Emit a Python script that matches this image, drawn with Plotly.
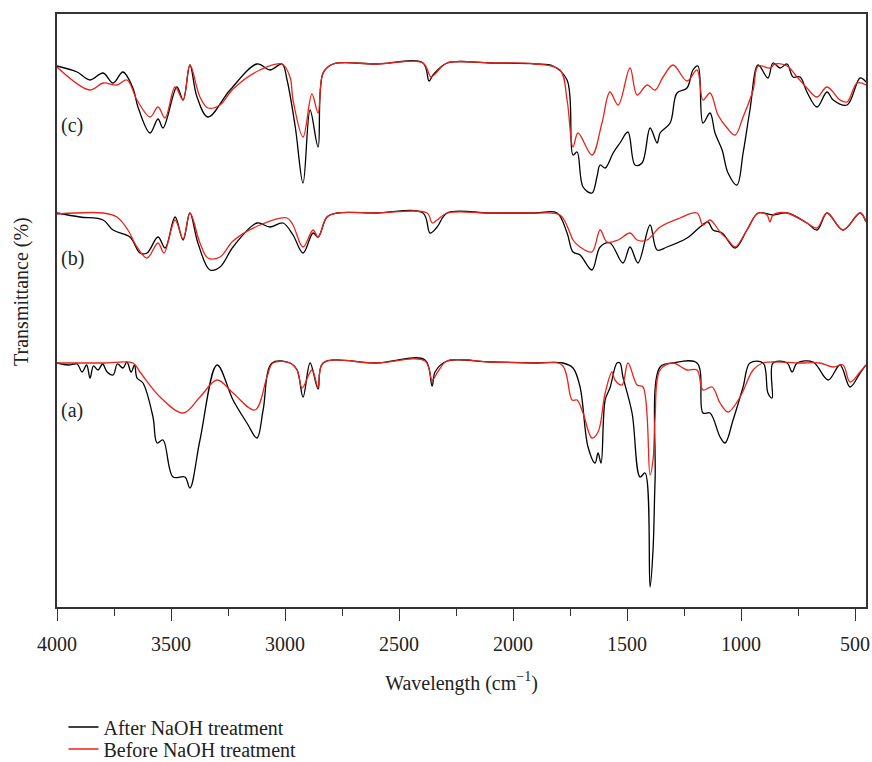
import plotly.graph_objects as go

# ---------------- data (y in arbitrary transmittance units) -------------
c_after_x = [4000, 3912, 3855, 3798, 3754, 3711, 3667, 3645, 3592, 3557, 3535, 3474, 3447, 3417, 3386,
             3338, 3241, 3123, 3066, 3013, 2991, 2955, 2921, 2890, 2855, 2833, 2789, 2600, 2395, 2368,
             2351, 2289, 2100, 1900, 1825, 1763, 1737, 1719, 1693, 1654, 1632, 1618, 1596, 1561, 1531,
             1496, 1465, 1434, 1399, 1368, 1355, 1311, 1281, 1237, 1211, 1189, 1167, 1136, 1114, 1083,
             1057, 1018, 991, 961, 925, 882, 860, 829, 798, 772, 741, 711, 667, 623, 596, 535, 478, 452]
c_after_y = [541, 535, 527, 534, 524, 535, 519, 500, 474, 488, 479, 520, 507, 542, 510,
             490, 517, 543, 537, 543, 527, 480, 424, 497, 460, 534, 543, 543, 544, 526,
             532, 544, 544, 543, 541, 527, 452, 455, 420, 414, 430, 442, 439, 454, 464,
             475, 442, 444, 479, 464, 474, 484, 514, 519, 537, 541, 484, 494, 474, 457,
             434, 422, 454, 497, 542, 529, 544, 539, 543, 530, 530, 515, 500, 515, 507, 502, 529, 525]

c_before_x = [4000, 3855, 3798, 3737, 3693, 3649, 3592, 3557, 3526, 3482, 3447, 3417, 3373, 3338, 3285,
              3228, 3110, 3013, 2978, 2965, 2921, 2882, 2855, 2833, 2789, 2600, 2395, 2360, 2342, 2289,
              2100, 1900, 1794, 1763, 1737, 1715, 1654, 1610, 1575, 1539, 1487, 1456, 1412, 1377, 1342,
              1298, 1237, 1193, 1167, 1136, 1101, 1061, 1026, 991, 947, 925, 873, 851, 798, 754, 711,
              667, 623, 566, 535, 491, 452]
c_before_y = [540, 517, 524, 522, 527, 507, 490, 500, 489, 520, 507, 542, 510, 499, 502,
              518, 537, 543, 530, 507, 470, 513, 494, 534, 543, 543, 544, 530, 533, 544,
              544, 543, 537, 507, 460, 474, 452, 484, 515, 502, 539, 512, 522, 517, 530,
              542, 526, 537, 507, 514, 492, 479, 472, 490, 517, 541, 539, 543, 541, 530, 519,
              510, 520, 507, 505, 524, 522]

b_after_x = [4000, 3899, 3798, 3754, 3680, 3636, 3605, 3557, 3526, 3482, 3447, 3417, 3382, 3329, 3285,
             3228, 3123, 3066, 3009, 2965, 2921, 2877, 2855, 2816, 2772, 2600, 2395, 2364, 2333, 2289,
             2100, 1900, 1807, 1763, 1737, 1706, 1654, 1618, 1575, 1518, 1487, 1452, 1399, 1368, 1325,
             1237, 1180, 1145, 1123, 1083, 1026, 974, 925, 860, 798, 711, 667, 623, 553, 478, 452]
b_after_y = [394, 390, 387, 377, 370, 354, 354, 370, 359, 390, 367, 394, 364, 337, 340,
             360, 384, 380, 384, 372, 354, 374, 370, 390, 394, 394, 394, 374, 380, 394,
             394, 394, 394, 374, 355, 352, 337, 360, 364, 344, 360, 344, 382, 357, 360,
             369, 380, 385, 377, 374, 359, 377, 394, 392, 394, 384, 377, 394, 377, 394, 385]

b_before_x = [4000, 3798, 3737, 3689, 3649, 3605, 3557, 3531, 3482, 3447, 3417, 3373, 3338, 3285, 3228,
              3110, 2991, 2965, 2921, 2877, 2855, 2816, 2772, 2600, 2377, 2355, 2333, 2289, 2100, 1900,
              1794, 1750, 1737, 1706, 1654, 1618, 1588, 1539, 1487, 1456, 1412, 1355, 1268, 1193, 1167,
              1136, 1092, 1057, 1026, 974, 925, 886, 873, 860, 798, 711, 667, 623, 553, 478, 452]
b_before_y = [393, 394, 390, 377, 360, 349, 364, 354, 387, 368, 394, 364, 349, 350, 366,
              382, 389, 382, 360, 377, 370, 390, 394, 394, 394, 384, 387, 394, 394, 394,
              392, 374, 367, 360, 355, 377, 365, 367, 374, 367, 367, 380, 389, 394, 382,
              387, 375, 367, 360, 377, 394, 392, 385, 392, 394, 384, 379, 394, 377, 394, 385]

a_after_x = [4000, 3950, 3912, 3890, 3870, 3855, 3840, 3820, 3800, 3780, 3754, 3735, 3711, 3693, 3675,
             3660, 3649, 3623, 3579, 3561, 3535, 3491, 3439, 3417, 3373, 3298, 3228, 3167, 3123, 3096,
             3057, 2978, 2947, 2921, 2890, 2855, 2833, 2600, 2386, 2355, 2342, 2289, 2100, 1900, 1781,
             1737, 1706, 1671, 1640, 1627, 1614, 1596, 1575, 1544, 1531, 1518, 1478, 1443, 1421, 1399,
             1386, 1377, 1355, 1298, 1193, 1167, 1136, 1092, 1070, 1035, 991, 961, 903, 882, 864, 860,
             798, 776, 754, 684, 618, 566, 522, 478, 452]
a_after_y = [244, 242, 243, 235, 242, 229, 241, 237, 243, 235, 232, 243, 239, 245, 235,
             242, 229, 224, 190, 164, 167, 130, 130, 119, 167, 242, 207, 184, 169, 197,
             244, 244, 237, 210, 244, 218, 244, 244, 247, 221, 235, 246, 245, 244, 244,
             239, 220, 160, 144, 154, 144, 207, 219, 244, 244, 230, 194, 130, 134, 20,
             57, 127, 240, 244, 244, 194, 194, 170, 164, 187, 220, 244, 244, 214, 209, 244,
             244, 235, 244, 245, 227, 242, 220, 234, 242]

a_before_x = [4000, 3800, 3667, 3636, 3548, 3447, 3373, 3298, 3228, 3132, 3079, 3053, 2978, 2947, 2925,
              2882, 2855, 2833, 2600, 2386, 2355, 2333, 2289, 2100, 1900, 1785, 1741, 1719, 1693, 1654,
              1627, 1596, 1566, 1553, 1522, 1496, 1456, 1430, 1399, 1386, 1377, 1355, 1298, 1237, 1193,
              1167, 1127, 1092, 1057, 1004, 947, 903, 741, 654, 596, 553, 522, 478, 452]
a_before_y = [244, 244, 244, 235, 210, 194, 210, 227, 214, 197, 230, 244, 244, 237, 219,
              237, 220, 244, 244, 246, 227, 234, 246, 245, 244, 242, 207, 207, 194, 169,
              175, 214, 235, 227, 222, 244, 222, 220, 132, 147, 190, 237, 244, 237, 237,
              217, 220, 204, 195, 210, 237, 244, 244, 244, 240, 242, 225, 235, 242]

series_names = ["After NaOH treatment", "Before NaOH treatment"]
series_colors = ["#000000", "#e8231a"]
panel_labels = ["(a)", "(b)", "(c)"]
panel_label_y = [197, 349, 482]

x_tickvals = [4000, 3500, 3000, 2500, 2000, 1500, 1000, 500]
x_minorvals = [3750, 3250, 2750, 2250, 1750, 1250, 750]

FONT = "Liberation Serif"

# ---------------- figure ----------------
fig = go.Figure()
pairs = [(a_after_x, a_after_y, a_before_x, a_before_y),
         (b_after_x, b_after_y, b_before_x, b_before_y),
         (c_after_x, c_after_y, c_before_x, c_before_y)]
for i, (ax, ay, bx, by) in enumerate(pairs):
    fig.add_trace(go.Scatter(x=ax, y=ay, mode="lines", name=series_names[0], legend="legend",
                             line=dict(color=series_colors[0], width=1.3, shape="spline", smoothing=1.0),
                             showlegend=(i == 0)))
    fig.add_trace(go.Scatter(x=bx, y=by, mode="lines", name=series_names[1], legend="legend2",
                             line=dict(color=series_colors[1], width=1.3, shape="spline", smoothing=1.0),
                             showlegend=(i == 0)))

for lab, yy in zip(panel_labels, panel_label_y):
    fig.add_annotation(x=3990, y=yy, text=lab, showarrow=False, xanchor="left", yanchor="middle",
                       font=dict(family=FONT, size=20, color="#222"))

# y-axis title (slightly above the plot centre, as in the reference)
fig.add_annotation(xref="paper", yref="paper", x=-0.044, y=0.532, text="Transmittance (%)",
                   textangle=-90, showarrow=False, xanchor="center", yanchor="middle",
                   font=dict(family=FONT, size=20, color="#222"))

axis_col = "#333333"
leg_common = dict(x=0.008, xanchor="left", yanchor="middle", orientation="v",
                  font=dict(family=FONT, size=20, color="#222"), bgcolor="rgba(0,0,0,0)")
fig.update_layout(
    width=872, height=762,
    margin=dict(l=57, r=6, t=14, b=155, autoexpand=False),
    paper_bgcolor="white", plot_bgcolor="white",
    font=dict(family=FONT, size=20, color="#222"),
    xaxis=dict(range=[4000, 452], tickvals=x_tickvals, ticks="outside", ticklen=12, tickwidth=1.3,
               tickcolor=axis_col, showline=True, linecolor=axis_col, linewidth=1.5, mirror=True,
               showgrid=False, zeroline=False, ticklabelstandoff=6,
               minor=dict(tickvals=x_minorvals, ticks="outside",
                          ticklen=7, tickwidth=1.3, tickcolor=axis_col, showgrid=False),
               title=dict(text="Wavelength (cm<sup>−1</sup>)", standoff=22, font=dict(size=20)),
               tickfont=dict(size=20)),
    yaxis=dict(range=[0, 593], showticklabels=False, ticks="", showline=True, linecolor=axis_col,
               linewidth=1.5, mirror=True, showgrid=False, zeroline=False),
    legend=dict(y=-0.2024, **leg_common),
    legend2=dict(y=-0.2395, **leg_common),
)

fig.write_html("out.html")
